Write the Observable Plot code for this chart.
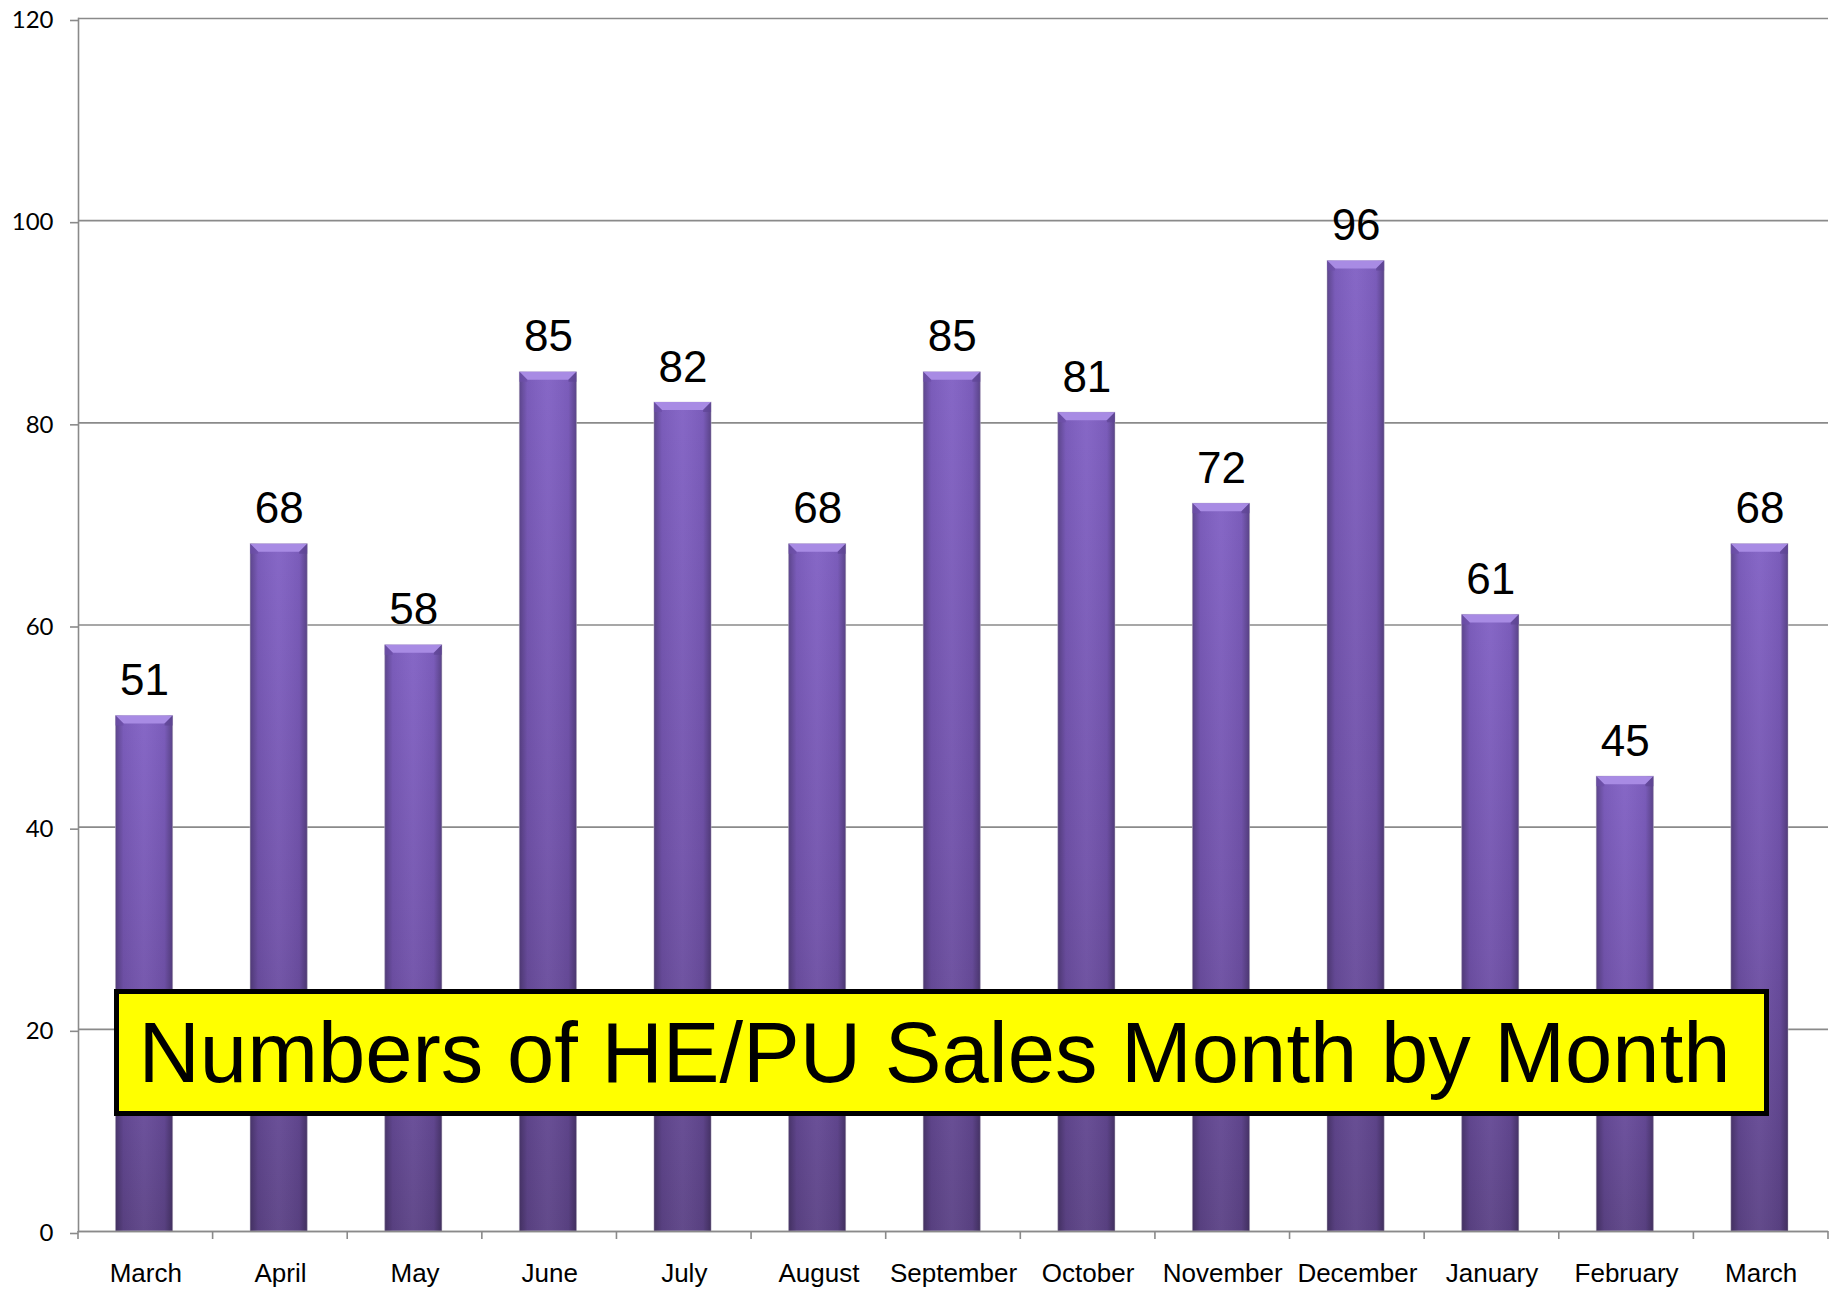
<!DOCTYPE html>
<html>
<head>
<meta charset="utf-8">
<script src="https://cdn.jsdelivr.net/npm/d3@7"></script>
<script src="https://cdn.jsdelivr.net/npm/@observablehq/plot@0.6"></script>
<style>
  html, body { margin: 0; padding: 0; background: #fff; }
  #wrap { position: relative; width: 1837px; height: 1291px; }
  #title {
    position: absolute; left: 114px; top: 989px; width: 1655px; height: 127px;
    box-sizing: border-box; border: 5px solid #000; background: #ffff00;
    font-family: "Liberation Sans", Arial, sans-serif; font-size: 85px;
    line-height: 117px; text-align: center; color: #000; white-space: nowrap;
    padding-right: 14px;
  }
</style>
</head>
<body>
<div id="wrap"></div>
<script>
const months = ["March","April","May","June","July","August","September","October","November","December","January","February","March"];
const sales = [51, 68, 58, 85, 82, 68, 85, 81, 72, 96, 61, 45, 68];
const yTicks = [0, 20, 40, 60, 80, 100, 120];
const titleText = "Numbers of HE/PU Sales Month by Month";

const data = months.map((m, i) => ({i, month: m, v: sales[i]}));
const INSET_L = 37.5, INSET_R = 40;

const defs = () => {
  const g = d3.create("svg:g");
  const d = g.append("defs");
  const v = d.append("linearGradient").attr("id", "barV").attr("x1", 0).attr("y1", 0).attr("x2", 0).attr("y2", 1);
  v.append("stop").attr("offset", "0%").attr("stop-color", "#8161c4");
  v.append("stop").attr("offset", "55%").attr("stop-color", "#7152aa");
  v.append("stop").attr("offset", "100%").attr("stop-color", "#5c4386");
  const h = d.append("linearGradient").attr("id", "barH").attr("x1", 0).attr("y1", 0).attr("x2", 1).attr("y2", 0);
  h.append("stop").attr("offset", "0%").attr("stop-color", "#000").attr("stop-opacity", 0.28);
  h.append("stop").attr("offset", "14%").attr("stop-color", "#000").attr("stop-opacity", 0.05);
  h.append("stop").attr("offset", "50%").attr("stop-color", "#fff").attr("stop-opacity", 0.04);
  h.append("stop").attr("offset", "86%").attr("stop-color", "#000").attr("stop-opacity", 0.05);
  h.append("stop").attr("offset", "100%").attr("stop-color", "#000").attr("stop-opacity", 0.3);
  return g.node();
};

// bevelled top face of each bar, positioned via the plot's scales
const bevels = (index, scales) => {
  const g = d3.create("svg:g");
  const step = scales.x(1) - scales.x(0);
  const b = 8;
  for (const d of data) {
    const x0 = scales.x(d.i) + INSET_L, x1 = scales.x(d.i) + step - INSET_R, y = scales.y(d.v);
    g.append("polygon")
      .attr("points", [[x0, y], [x1, y], [x1 - b, y + b], [x0 + b, y + b]].map(p => p.join(",")).join(" "))
      .attr("fill", "#a88be4");
    g.append("polygon")
      .attr("points", [[x0, y], [x0 + b, y + b], [x0 + b, y + b + 2], [x0, y + b + 2]].map(p => p.join(",")).join(" "))
      .attr("fill", "#6c4fa8").attr("opacity", 0.7);
    g.append("polygon")
      .attr("points", [[x1, y], [x1 - b, y + b], [x1 - b, y + b + 2], [x1, y + b + 2]].map(p => p.join(",")).join(" "))
      .attr("fill", "#5e4494").attr("opacity", 0.7);
  }
  return g.node();
};

const boundaryTicks = (index, scales) => {
  const g = d3.create("svg:g").attr("stroke", "#8a8a8a").attr("stroke-width", 1.6);
  const x0 = scales.x(0);
  const step = scales.x(1) - scales.x(0);
  const y0 = scales.y(0);
  for (let k = 0; k <= months.length; k++) {
    const xx = x0 + k * step;
    g.append("line").attr("x1", xx).attr("x2", xx).attr("y1", y0).attr("y2", y0 + 8);
  }
  return g.node();
};

const chart = Plot.plot({
  width: 1837,
  height: 1291,
  marginLeft: 78,
  marginRight: 9,
  marginTop: 18,
  marginBottom: 60,
  style: {background: "#fff", overflow: "visible"},
  x: {domain: d3.range(months.length), padding: 0, round: false, label: null},
  y: {domain: [0, 120], label: null},
  marks: [
    defs,
    Plot.gridY(yTicks, {stroke: "#8a8a8a", strokeOpacity: 1, strokeWidth: 1.6}),
    Plot.axisY(yTicks, {
      tickSize: 8, tickPadding: 17, stroke: "#8a8a8a", strokeWidth: 1.6,
      fontSize: 24, fontFamily: "Lato, 'Open Sans', sans-serif", fill: "#000", dy: 2, label: null
    }),
    Plot.axisX({
      tickSize: 0, tickPadding: 32, fontSize: 26,
      fontFamily: "'Liberation Sans', Arial, sans-serif", fill: "#000",
      tickFormat: i => months[i], label: null
    }),
    Plot.barY(data, {x: "i", y: "v", fill: "url(#barV)", insetLeft: INSET_L, insetRight: INSET_R,
      stroke: "#c9c2d6", strokeWidth: 1, strokeOpacity: 0.6}),
    Plot.barY(data, {x: "i", y: "v", fill: "url(#barH)", insetLeft: INSET_L, insetRight: INSET_R}),
    bevels,
    Plot.frame({anchor: "left", stroke: "#8a8a8a", strokeWidth: 1.6}),
    Plot.ruleY([0], {stroke: "#8a8a8a", strokeWidth: 1.6}),
    boundaryTicks,
    Plot.text(data, {x: "i", y: "v", text: d => String(d.v), lineAnchor: "bottom", dy: -21, dx: -1.25,
      fontSize: 44, fontFamily: "'Liberation Sans', Arial, sans-serif", fill: "#000"})
  ]
});

const wrap = document.getElementById("wrap");
wrap.appendChild(chart);
const t = document.createElement("div");
t.id = "title";
t.textContent = titleText;
wrap.appendChild(t);
</script>
</body>
</html>
